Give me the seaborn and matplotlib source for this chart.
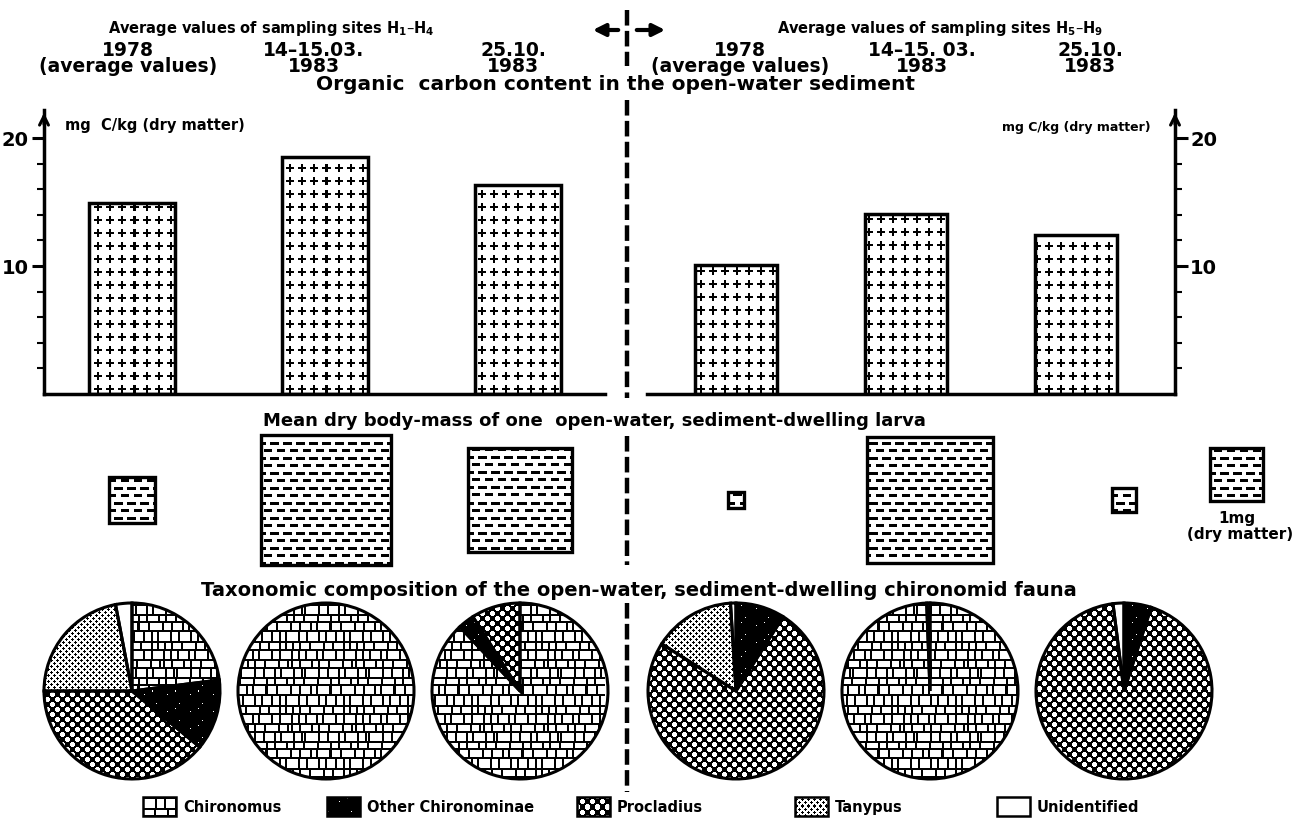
import numpy as np
import pandas as pd
import seaborn as sns
import matplotlib.pyplot as plt
from matplotlib.patches import Rectangle, FancyArrowPatch
from matplotlib.lines import Line2D
from matplotlib.ticker import FixedLocator

# valores
dates = ['1978', '14-15.03.1983', '25.10.1983']
carbon_h1_h4 = [14.9, 18.5, 16.3]      # mg C/kg (dry matter)
carbon_h5_h9 = [10.1, 14.1, 12.4]
larva_mass_h1_h4 = [0.75, 6.0, 3.9]    # mg (dry matter), area of the square
larva_mass_h5_h9 = [0.1, 5.6, 0.2]
taxa = ['Chironomus', 'Other Chironominae', 'Procladius', 'Tanypus', 'Unidentified']
# % of the fauna, same order as taxa
taxa_h1_h4 = [[23, 13, 39, 22, 3],
              [100, 0, 0, 0, 0],
              [88, 3, 9, 0, 0]]
taxa_h5_h9 = [[0, 9, 75, 15, 1],
              [99.4, 0, 0, 0, 0.6],
              [0, 5, 93, 0, 2]]

sns.set_style('ticks')
plt.rcParams['font.family'] = ['DejaVu Sans']
plt.rcParams['font.weight'] = 'bold'
plt.rcParams['mathtext.default'] = 'regular'
for key in ['text.color', 'axes.labelcolor', 'axes.edgecolor', 'xtick.color', 'ytick.color']:
    plt.rcParams[key] = 'black'

W, H = 1310, 821
STEP = 194          # px between two samples in the mass / pie rows
SIDE_1MG = 53 / STEP
PIE_R = 88 / STEP

fig = plt.figure(figsize=(W / 100, H / 100), dpi=100)


def px_axes(x0, y0, x1, y1):
    return fig.add_axes([x0 / W, 1 - y1 / H, (x1 - x0) / W, (y1 - y0) / H])


def ftext(x, y, s, **kw):
    kw.setdefault('ha', 'center')
    kw.setdefault('va', 'center')
    fig.text(x / W, 1 - y / H, s, **kw)


# ---- texturas (1 = negro) ----
def tile_crosses():
    t = np.zeros((13, 12))
    t[5:7, 2:10] = 1
    t[2:10, 5:7] = 1
    return t


def tile_dashes():
    t = np.zeros((15, 13))
    t[2:5, 1:10] = 1
    t[9:12, 8:13] = 1
    t[9:12, 0:3] = 1
    return t


def tile_bricks():
    heights = [6, 8, 5, 7, 9, 6, 8]
    widths = [6, 10, 5, 8, 12, 7, 9, 4, 11]
    tw = 64
    t = np.ones((sum(heights) + 2 * len(heights), tw))
    y = 0
    for r, h in enumerate(heights):
        x = (r * 13) % tw
        end = x + tw
        k = r * 4
        while x < end:
            w = widths[k % len(widths)]
            cols = np.arange(x + 2, min(x + 2 + w, end)) % tw
            t[y + 2:y + 2 + h, cols] = 0
            x += w + 2
            k += 1
        y += h + 2
    return t


def tile_dots():
    yy, xx = np.mgrid[0:10, 0:10] + 0.5
    d1 = (xx - 2.5) ** 2 + (yy - 2.5) ** 2
    d2 = (xx - 7.5) ** 2 + (yy - 7.5) ** 2
    return np.where((d1 < 6.5) | (d2 < 6.5), 0.0, 1.0)


def tile_fine():
    yy, xx = np.mgrid[0:6, 0:6] + 0.5
    d1 = (xx - 1.5) ** 2 + (yy - 1.5) ** 2
    d2 = (xx - 4.5) ** 2 + (yy - 4.5) ** 2
    return np.where((d1 < 1.6) | (d2 < 1.6), 1.0, 0.0)


def tile_black():
    t = np.ones((17, 23))
    t[4, 6] = 0
    t[12, 17] = 0
    t[9, 2] = 0
    return t


TILES = {'Chironomus': tile_bricks(), 'Other Chironominae': tile_black(),
         'Procladius': tile_dots(), 'Tanypus': tile_fine(),
         'Unidentified': np.zeros((2, 2))}


def texture(ax, patch, tile, zorder=2):
    bb = ax.get_window_extent()
    w, h = int(round(bb.width)), int(round(bb.height))
    img = np.tile(tile, (h // tile.shape[0] + 1, w // tile.shape[1] + 1))[:h, :w]
    x0, x1 = ax.get_xlim()
    y0, y1 = ax.get_ylim()
    im = ax.imshow(img, cmap='gray_r', vmin=0, vmax=1, extent=(x0, x1, y0, y1),
                   aspect='auto', interpolation='nearest', zorder=zorder)
    im.set_clip_path(patch)
    ax.set_xlim(x0, x1)
    ax.set_ylim(y0, y1)


def slot_axes(box, first_px, mid_px, step=STEP):
    ax = px_axes(*box)
    x0, y0, x1, y1 = box
    ax.set_xlim((x0 - first_px) / step, (x1 - first_px) / step)
    ax.set_ylim((mid_px - y1) / step, (mid_px - y0) / step)
    ax.axis('off')
    return ax


# ---- carbono organico (barras) ----
def bar_panel(box, values, first_px, step, width, side):
    ax = px_axes(*box)
    df = pd.DataFrame({'date': dates, 'carbon': values})
    sns.barplot(data=df, x='date', y='carbon', ax=ax, color='white', saturation=1,
                width=width, edgecolor='black', linewidth=2.5, errorbar=None)
    x0, _, x1, _ = box
    ax.set_xlim((x0 - first_px) / step, (x1 - first_px) / step)
    ax.set_ylim(0, 22.2)
    ax.set_xlabel('')
    ax.set_ylabel('')
    ax.set_xticks([])
    ax.set_yticks([10, 20])
    ax.yaxis.set_minor_locator(FixedLocator([2, 4, 6, 8, 12, 14, 16, 18]))
    ax.tick_params(axis='y', which='major', length=9, width=2.2, labelsize=14, pad=2)
    ax.tick_params(axis='y', which='minor', length=5, width=1.5)
    sns.despine(ax=ax, left=(side == 'right'), right=(side == 'left'))
    if side == 'right':
        ax.yaxis.tick_right()
        ax.spines['right'].set_visible(True)
    for s in ax.spines.values():
        s.set_linewidth(2.5)
    xa = 0 if side == 'left' else 1
    ax.annotate('', xy=(xa, 1.0), xytext=(xa, 0.94), xycoords='axes fraction',
                arrowprops=dict(arrowstyle='->', lw=2.2, mutation_scale=16, color='black'))
    for p in ax.patches:
        p.set_facecolor('none')
        p.set_zorder(3)
        texture(ax, p, tile_crosses())
    return ax


ax_l = bar_panel((44, 110, 605, 394), carbon_h1_h4, 132, 193, 0.45, 'left')
ax_r = bar_panel((647, 110, 1175, 394), carbon_h5_h9, 736, 170, 0.48, 'right')
ax_l.text(0.037, 0.947, 'mg  C/kg (dry matter)', transform=ax_l.transAxes,
          ha='left', va='center', fontsize=10.5)
ax_r.text(0.953, 0.937, 'mg C/kg (dry matter)', transform=ax_r.transAxes,
          ha='right', va='center', fontsize=9)


# ---- masa seca de la larva (cuadrados, area = masa) ----
def mass_panel(box, masses, first_px):
    ax = slot_axes(box, first_px, 500)
    for i, m in enumerate(masses):
        s = SIDE_1MG * np.sqrt(m)
        r = Rectangle((i - s / 2, -s / 2), s, s, fc='none', ec='black', lw=2.4, zorder=3)
        ax.add_patch(r)
        texture(ax, r, tile_dashes())
    return ax


mass_panel((35, 425, 605, 575), larva_mass_h1_h4, 132)
ax_m = mass_panel((647, 425, 1300, 575), larva_mass_h5_h9, 736)
ref = Rectangle((2.58 - SIDE_1MG / 2, 0.13 - SIDE_1MG / 2), SIDE_1MG, SIDE_1MG,
                fc='none', ec='black', lw=2.4, zorder=3)
ax_m.add_patch(ref)
texture(ax_m, ref, tile_dashes())
ax_m.text(2.58, -0.093, '1mg', ha='center', va='center', fontsize=11)
ax_m.text(2.60, -0.18, '(dry matter)', ha='center', va='center', fontsize=11)


# ---- composicion taxonomica (tartas) ----
def pie_panel(box, compositions, first_px):
    ax = px_axes(*box)
    parts = []
    for i, row in enumerate(compositions):
        keep = [k for k, v in enumerate(row) if v > 0]
        wedges, _ = ax.pie([row[k] for k in keep], center=(i, 0), radius=PIE_R,
                           startangle=90, counterclock=False, colors=['none'] * len(keep),
                           wedgeprops=dict(edgecolor='black', linewidth=2.2))
        for w, k in zip(wedges, keep):
            w.set_zorder(3)
            parts.append((w, TILES[taxa[k]]))
    x0, y0, x1, y1 = box
    ax.set_aspect('auto')
    ax.set_xlim((x0 - first_px) / STEP, (x1 - first_px) / STEP)
    ax.set_ylim((691 - y1) / STEP, (691 - y0) / STEP)
    ax.axis('off')
    for w, t in parts:
        texture(ax, w, t)


pie_panel((35, 597, 605, 785), taxa_h1_h4, 132)
pie_panel((647, 597, 1300, 785), taxa_h5_h9, 736)

# ---- leyenda ----
legend_x = [143, 327, 577, 795, 997]
leg = px_axes(0, 790, W, 821)
leg.set_xlim(0, W)
leg.set_ylim(821, 790)
leg.axis('off')
for x, name in zip(legend_x, taxa):
    r = Rectangle((x, 797), 33, 19, fc='none', ec='black', lw=1.8, zorder=3)
    leg.add_patch(r)
    texture(leg, r, TILES[name])
    leg.text(x + 40, 807, name, ha='left', va='center', fontsize=10.5)

# ---- textos de cabecera y titulos ----
ftext(271, 29, 'Average values of sampling sites H$_1$–H$_4$', fontsize=10.5)
ftext(940, 29, 'Average values of sampling sites H$_5$–H$_9$', fontsize=10.5)
for x, top, bottom in [(128, '1978', '(average values)'), (314, '14–15.03.', '1983'),
                       (513, '25.10.', '1983'), (740, '1978', '(average values)'),
                       (922, '14–15. 03.', '1983'), (1090, '25.10.', '1983')]:
    ftext(x, 50, top, fontsize=13.5)
    ftext(x, 67, bottom, fontsize=13.5)
ftext(615, 85, 'Organic  carbon content in the open-water sediment', fontsize=14.5)
ftext(594, 421, 'Mean dry body-mass of one  open-water, sediment-dwelling larva', fontsize=13)
ftext(639, 590, 'Taxonomic composition of the open-water, sediment-dwelling chironomid fauna',
      fontsize=14)

# flechas y divisoria discontinua
for a, b in [((621, 30), (590, 30)), ((634, 30), (668, 30))]:
    fig.add_artist(FancyArrowPatch((a[0] / W, 1 - a[1] / H), (b[0] / W, 1 - b[1] / H),
                                   transform=fig.transFigure, arrowstyle='-|>',
                                   mutation_scale=18, lw=3, color='black'))
for y0, y1 in [(10, 66), (100, 398), (436, 565), (603, 792)]:
    fig.add_artist(Line2D([627 / W, 627 / W], [1 - y0 / H, 1 - y1 / H], transform=fig.transFigure,
                          color='black', lw=3.2, dashes=(3.5, 1.2)))

fig.savefig('out.png', dpi=100)
